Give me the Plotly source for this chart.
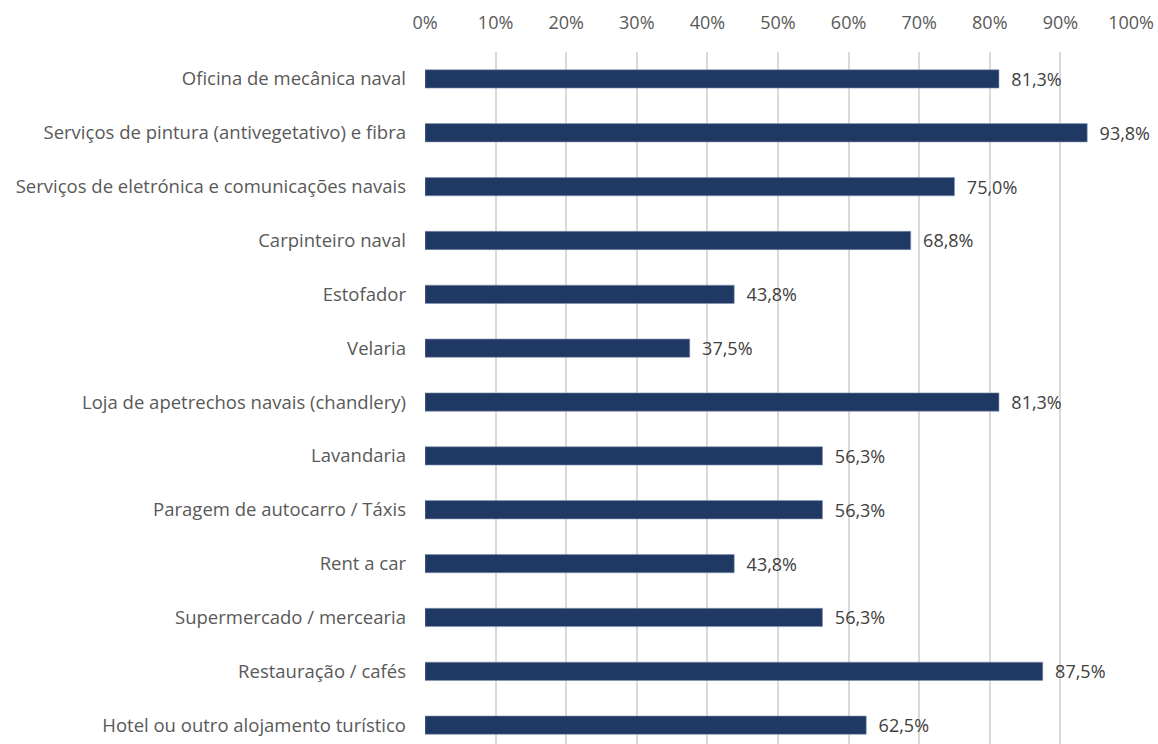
import plotly.graph_objects as go

categorias = [
    "Oficina de mecânica naval",
    "Serviços de pintura (antivegetativo) e fibra",
    "Serviços de eletrónica e comunicações navais",
    "Carpinteiro naval",
    "Estofador",
    "Velaria",
    "Loja de apetrechos navais (chandlery)",
    "Lavandaria",
    "Paragem de autocarro / Táxis",
    "Rent a car",
    "Supermercado / mercearia",
    "Restauração / cafés",
    "Hotel ou outro alojamento turístico",
]
valores = [0.813, 0.938, 0.750, 0.688, 0.438, 0.375, 0.813, 0.563, 0.563, 0.438, 0.563, 0.875, 0.625]
ticks_x = [0, 0.1, 0.2, 0.3, 0.4, 0.5, 0.6, 0.7, 0.8, 0.9, 1.0]

fig = go.Figure()
fig.add_trace(go.Bar(
    y=categorias, x=valores, orientation="h",
    width=0.34,
    marker=dict(color="#203864", line=dict(color="#8496B0", width=0.6)),
    texttemplate="\u00a0\u00a0%{x:.1%}", textposition="outside",
    constraintext="none",
    textfont=dict(color="#404040", size=18, family="Open Sans"),
    cliponaxis=False,
    hoverinfo="skip",
))

fig.update_layout(
    width=1158, height=744,
    margin=dict(l=425, r=27, t=52, b=0),
    plot_bgcolor="white", paper_bgcolor="white",
    separators=",.",
    font=dict(family="Open Sans", color="#595959", size=18),
    showlegend=False,
)
fig.update_xaxes(
    side="top", range=[0, 1], tickvals=ticks_x, tickformat=".0%",
    showgrid=True, gridcolor="#D9D9D9", gridwidth=1.5,
    zeroline=False, showline=False, ticks="",
    ticklabelstandoff=18,
    tickfont=dict(size=18, color="#595959"),
)
fig.update_yaxes(
    categoryorder="array", categoryarray=categorias,
    range=[12.35, -0.5],
    showgrid=False, zeroline=False, showline=False, ticks="",
    ticklabelstandoff=18,
    tickfont=dict(size=18.5, color="#595959"),
)

# tira a margem do body para o gráfico ocupar a janela toda
fig.write_html(
    "out.html",
    config={"displayModeBar": False},
    post_script="document.body.style.margin='0';document.body.style.overflow='hidden';",
)
